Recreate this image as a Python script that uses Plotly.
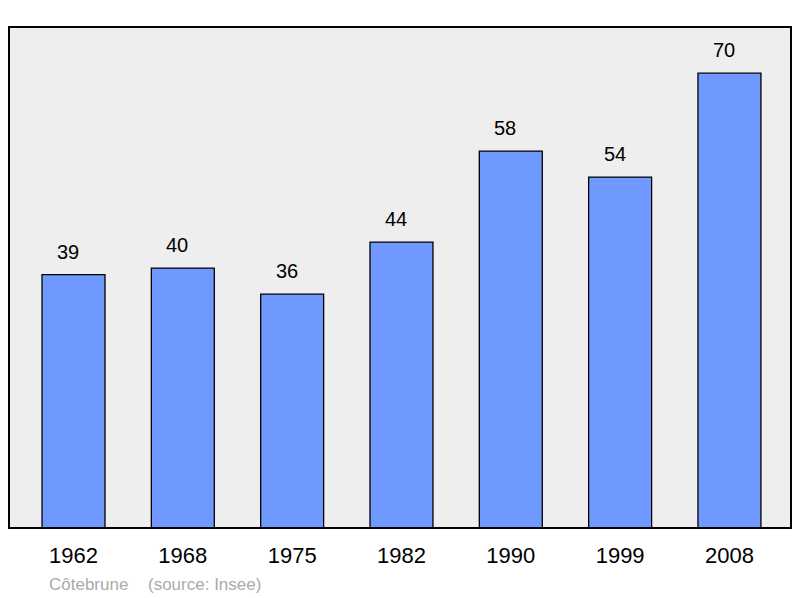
import plotly.graph_objects as go

# population of Côtebrune by census year
years = ["1962", "1968", "1975", "1982", "1990", "1999", "2008"]
population = [39, 40, 36, 44, 58, 54, 70]

x_pos = list(range(len(years)))

fig = go.Figure()
fig.add_trace(go.Bar(
    x=x_pos, y=population, width=0.576,
    marker=dict(color="#7099ff", line=dict(color="#000000", width=1.3)),
    hoverinfo="skip",
))

for x, v in zip(x_pos, population):
    fig.add_annotation(x=x, y=v, text=str(v), showarrow=False,
                       yanchor="bottom", yshift=10, xshift=-5.5,
                       font=dict(size=20, color="#000000"))

# source line under the axis
fig.add_annotation(xref="paper", yref="paper", x=0.0486, y=-0.112,
                   xanchor="left", yanchor="middle", showarrow=False,
                   text="Côtebrune", font=dict(size=17, color="#aaaaaa"))
fig.add_annotation(xref="paper", yref="paper", x=0.175, y=-0.112,
                   xanchor="left", yanchor="middle", showarrow=False,
                   text="(source: Insee)", font=dict(size=17, color="#aaaaaa"))

# frame round the plot area
fig.add_shape(type="rect", xref="paper", yref="paper", x0=0, y0=0, x1=1, y1=1,
              line=dict(color="#000000", width=2), layer="above")

fig.update_layout(
    width=800, height=598,
    margin=dict(l=9, r=9, t=27, b=70),
    paper_bgcolor="#ffffff", plot_bgcolor="#eeeeee",
    font=dict(family="Liberation Sans, Arial, sans-serif"),
    showlegend=False,
    xaxis=dict(range=[-0.59, 6.563], tickvals=x_pos, ticktext=years,
               showgrid=False, zeroline=False, ticks="",
               ticklabelstandoff=12,
               tickfont=dict(size=22, color="#000000")),
    yaxis=dict(range=[0, 77.1], visible=False, showgrid=False),
)

fig.write_html("out.html", config={"displayModeBar": False},
               post_script="document.body.style.margin='0';")
